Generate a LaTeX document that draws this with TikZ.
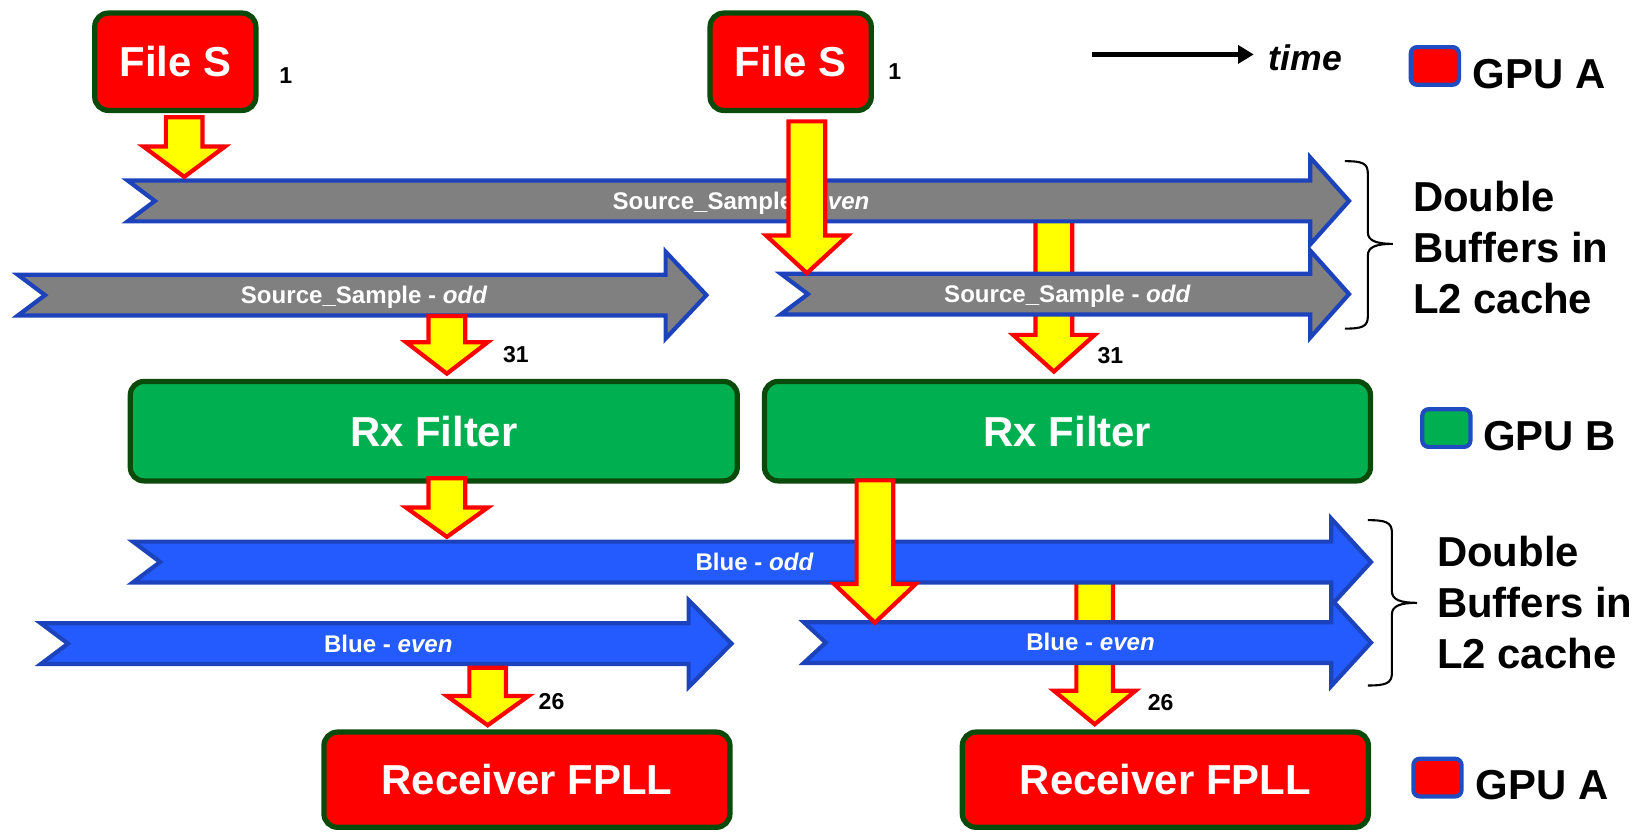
\documentclass[tikz,border=0pt]{standalone}
\usepackage{fontspec}
\setmainfont{Liberation Sans}
\usetikzlibrary{arrows.meta}

\definecolor{boxred}{HTML}{FF0000}
\definecolor{boxgreen}{HTML}{00B050}
\definecolor{edgegreen}{HTML}{0A4A0A}
\definecolor{bandgray}{HTML}{808080}
\definecolor{bandblue}{HTML}{235BFF}
\definecolor{bandedge}{HTML}{1C43BC}
\definecolor{flowyellow}{HTML}{FFFF00}
\definecolor{flowred}{HTML}{FF0000}
\definecolor{keyedge}{HTML}{1F4CC0}

\tikzset{
  band/.style={draw=bandedge, line width=4pt, line join=miter},
  flow/.style={draw=flowred, fill=flowyellow, line width=4pt, line join=miter},
  stage/.style={draw=edgegreen, line width=5pt, rounded corners=13pt, inner sep=0pt,
    text=white, font=\fontsize{40}{48}\selectfont\bfseries},
  srclabel/.style={text=white, font=\fontsize{23}{27}\selectfont\bfseries, inner sep=0pt, anchor=base},
  bluelabel/.style={text=white, font=\fontsize{23}{27}\selectfont\bfseries, inner sep=0pt, anchor=base},
  count/.style={font=\fontsize{22}{26}\selectfont\bfseries, inner sep=0pt, anchor=base},
  keybox/.style={draw=keyedge, line width=4pt, rounded corners=6pt, inner sep=0pt,
    minimum width=46pt, minimum height=36pt},
  keytext/.style={font=\fontsize{40}{48}\selectfont\bfseries, inner sep=0pt, anchor=base west},
  bracetext/.style={font=\fontsize{40}{49}\selectfont\bfseries, inner sep=0pt, anchor=base west},
  bracepath/.style={line width=2pt, black},
}

% buffer band: fill, tail x, notch x, head base x, tip x, centre y
\newcommand\bandarrow[6]{%
  \draw[band,fill=#1] (#2,{#6-19.5}) -- (#4,{#6-19.5}) -- (#4,{#6-41.5}) -- (#5,#6)
    -- (#4,{#6+41.5}) -- (#4,{#6+19.5}) -- (#2,{#6+19.5}) -- (#3,#6) -- cycle;}

% data transfer: centre x, top y, head start y, tip y
\newcommand\flowarrow[4]{%
  \draw[flow] ({#1-17.5},#2) -- ({#1+17.5},#2) -- ({#1+17.5},#3) -- ({#1+39},#3)
    -- (#1,#4) -- ({#1-39},#3) -- ({#1-17.5},#3) -- cycle;}

\begin{document}
\begin{tikzpicture}[x=1pt,y=-1pt]
\useasboundingbox (0,0) rectangle (1568,795);

% transfers that pass beneath the bands
\flowarrow{1007}{200}{320}{355}
\flowarrow{1046}{545}{660}{692}

% source sample double buffer
\bandarrow{bandgray}{122}{148}{1252}{1289}{192}
\node[srclabel] (srcEven) at (708,200) {Source\_Sample - \textit{even}};
\bandarrow{bandgray}{17}{43}{636}{675}{282}
\node[srclabel] (srcOddA) at (348,290) {Source\_Sample - \textit{odd}};
\bandarrow{bandgray}{746}{772}{1252}{1289}{281}
\node[srclabel] (srcOddB) at (1020,289) {Source\_Sample - \textit{odd}};

% blue double buffer
\bandarrow{bandblue}{127}{153}{1272}{1310}{537}
\node[bluelabel] (blueOdd) at (721,545) {Blue - \textit{odd}};
\bandarrow{bandblue}{39}{65}{658}{699}{615}
\node[bluelabel] (blueEvenA) at (371,623) {Blue - \textit{even}};
\bandarrow{bandblue}{768}{789}{1272}{1310}{614}
\node[bluelabel] (blueEvenB) at (1042,622) {Blue - \textit{even}};

% processing stages
\node[stage, fill=boxred, minimum width=154pt, minimum height=93pt] (fileA) at (167.5,59) {File S};
\node[stage, fill=boxred, minimum width=154pt, minimum height=93pt] (fileB) at (755.5,59) {File S};
\node[stage, fill=boxgreen, minimum width=580pt, minimum height=95pt] (rxA) at (414.5,412) {Rx Filter};
\node[stage, fill=boxgreen, minimum width=579pt, minimum height=95pt] (rxB) at (1020,412) {Rx Filter};
\node[stage, fill=boxred, minimum width=388pt, minimum height=91pt] (fpllA) at (503.5,745) {Receiver FPLL};
\node[stage, fill=boxred, minimum width=388pt, minimum height=91pt] (fpllB) at (1113.5,745) {Receiver FPLL};

% transfers
\flowarrow{176}{112}{140}{169}
\flowarrow{771}{116}{225}{261}
\flowarrow{427}{302}{327}{357}
\flowarrow{427}{457}{485}{513}
\flowarrow{836}{459}{558}{595}
\flowarrow{466}{638}{665}{693}

% transfer counts
\node[count] (cntFileA) at (273,80) {1};
\node[count] (cntFileB) at (855,76) {1};
\node[count] (cntRxA) at (493,346) {31};
\node[count] (cntRxB) at (1061,347) {31};
\node[count] (cntFpllA) at (527,678) {26};
\node[count] (cntFpllB) at (1109,679) {26};

% time axis
\coordinate (t0) at (1043,52);
\coordinate (t1) at (1198,52);
\draw[line width=4pt, -{Triangle[length=15pt,width=17pt]}] (t0) -- (t1);
\node[font=\fontsize{34}{40}\selectfont\bfseries\itshape, inner sep=0pt, anchor=base west] (timeLbl) at (1212,67) {time};

% device key
\node[keybox, fill=boxred] (keyA) at (1371,63) {};
\node[keytext] (keyAtxt) at (1407,85) {GPU A};
\node[keybox, fill=boxgreen] (keyB) at (1382,409) {};
\node[keytext] (keyBtxt) at (1417,430) {GPU B};
\node[keybox, fill=boxred] (keyC) at (1373.5,743) {};
\node[keytext] (keyCtxt) at (1410,764) {GPU A};

% buffer braces
\draw[bracepath] (1285,154) .. controls (1302,154) and (1307,156) .. (1307,166) -- (1307,222)
  .. controls (1307,230) and (1315,233) .. (1331,233)
  .. controls (1315,233) and (1307,236) .. (1307,244) -- (1307,302)
  .. controls (1307,312) and (1302,314) .. (1285,314);
\node[bracetext] (dblA) at (1350,202) {\begin{tabular}[t]{@{}l@{}}Double\\Buffers in\\L2 cache\end{tabular}};

\draw[bracepath] (1307,497) .. controls (1324,497) and (1330,499) .. (1330,509) -- (1330,565)
  .. controls (1330,573) and (1338,576) .. (1354,576)
  .. controls (1338,576) and (1330,579) .. (1330,587) -- (1330,643)
  .. controls (1330,653) and (1324,655) .. (1307,655);
\node[bracetext] (dblB) at (1373,541) {\begin{tabular}[t]{@{}l@{}}Double\\Buffers in\\L2 cache\end{tabular}};
\end{tikzpicture}
\end{document}
